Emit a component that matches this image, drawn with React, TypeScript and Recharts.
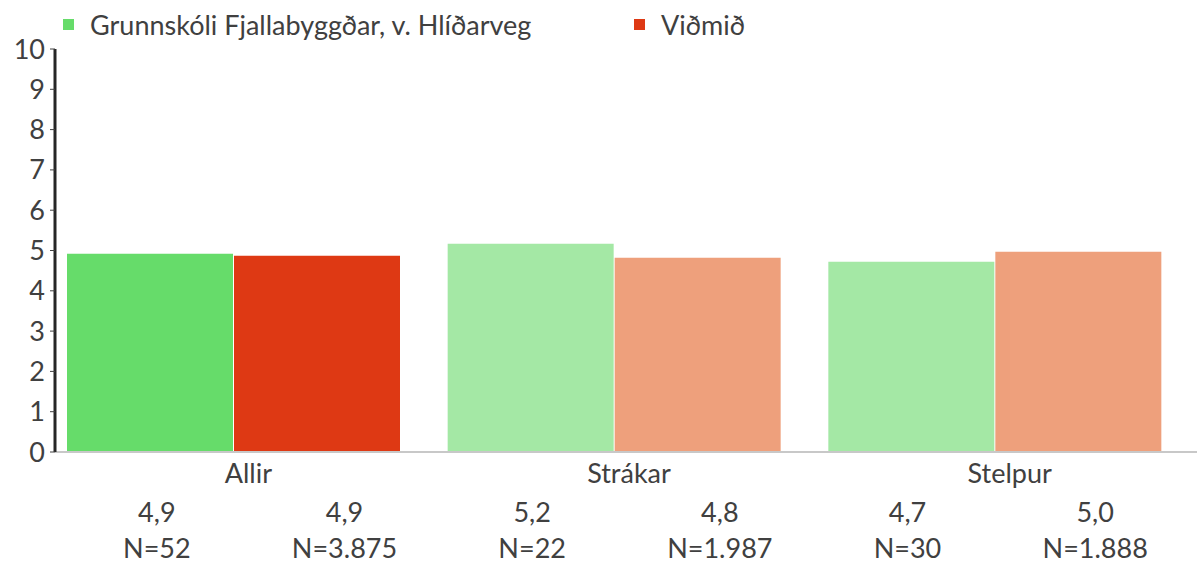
import React from 'react';
import { BarChart, Bar, XAxis, YAxis, Legend, Cell } from 'recharts';

const categories = ['Allir', 'Strákar', 'Stelpur'];
const schoolValues = [4.92, 5.17, 4.72];
const benchmarkValues = [4.87, 4.82, 4.97];
const schoolCounts = [52, 22, 30];
const benchmarkCounts = [3875, 1987, 1888];
const yTicks = [0, 1, 2, 3, 4, 5, 6, 7, 8, 9, 10];

const schoolName = 'Grunnskóli Fjallabyggðar, v. Hlíðarveg';
const benchmarkName = 'Viðmið';

const schoolColors = ['#66DC6A', '#A4E8A5', '#A4E8A5'];
const benchmarkColors = ['#DE3914', '#EEA07C', '#EEA07C'];

const FONT = 'Lato, sans-serif';
const FONT_SIZE = 27;
const TEXT = '#404040';

const data = categories.map((name, i) => ({
  name,
  school: schoolValues[i],
  benchmark: benchmarkValues[i],
}));

const fmtValue = (v: number) => v.toFixed(1).replace('.', ',');
const fmtCount = (n: number) => 'N=' + n.toString().replace(/\B(?=(\d{3})+(?!\d))/g, '.');

// one column per bar: value on top, respondent count below
const tableValues: string[] = [];
const tableCounts: string[] = [];
categories.forEach((_, i) => {
  tableValues.push(fmtValue(schoolValues[i]), fmtValue(benchmarkValues[i]));
  tableCounts.push(fmtCount(schoolCounts[i]), fmtCount(benchmarkCounts[i]));
});
const tableTicks = tableValues.map((_, i) => i + 0.5);

const LegendContent = () => (
  <div style={{ display: 'flex', height: 40, paddingLeft: 63, fontFamily: FONT, fontSize: FONT_SIZE, color: TEXT }}>
    <div style={{ display: 'flex', alignItems: 'center', width: 571, height: 30 }}>
      <span style={{ width: 11, height: 11, background: schoolColors[0], marginRight: 16 }} />
      {schoolName}
    </div>
    <div style={{ display: 'flex', alignItems: 'center', height: 30 }}>
      <span style={{ width: 11, height: 11, background: benchmarkColors[0], marginRight: 16 }} />
      {benchmarkName}
    </div>
  </div>
);

const CategoryTick = ({ x, y, payload }: any) => (
  <text x={x + 15} y={y + 23} textAnchor="middle" fill={TEXT} fontSize={FONT_SIZE} fontFamily={FONT}>
    {payload.value}
  </text>
);

const TableTick = ({ x, y, index }: any) => (
  <g fontSize={FONT_SIZE} fontFamily={FONT} fill={TEXT}>
    <text x={x} y={y + 22} textAnchor="middle">{tableValues[index]}</text>
    <text x={x} y={y + 58} textAnchor="middle">{tableCounts[index]}</text>
  </g>
);

export default function App() {
  return (
    <div style={{ position: 'absolute', left: 0, top: 0, background: '#fff' }}>
      <BarChart
        width={1197}
        height={565}
        data={data}
        margin={{ top: 9, right: 0, bottom: 0, left: 0 }}
        barGap={1}
        barSize={166}
      >
        <Legend verticalAlign="top" align="left" content={<LegendContent />} />
        <XAxis
          dataKey="name"
          padding={{ left: -12, right: 12 }}
          height={40}
          axisLine={{ stroke: '#C8C8C8', strokeWidth: 2 }}
          tickLine={false}
          tick={<CategoryTick />}
        />
        <XAxis
          xAxisId="table"
          type="number"
          dataKey={() => 0}
          domain={[0, tableValues.length]}
          allowDataOverflow
          ticks={tableTicks}
          padding={{ left: 8, right: 8 }}
          height={73}
          axisLine={false}
          tickLine={false}
          tick={<TableTick />}
          interval={0}
        />
        <YAxis
          domain={[0, 10]}
          ticks={yTicks}
          interval={0}
          width={55}
          tickSize={5}
          tickMargin={5}
          axisLine={{ stroke: '#262626', strokeWidth: 3 }}
          tickLine={{ stroke: TEXT }}
          tick={{ fill: TEXT, fontSize: FONT_SIZE, fontFamily: FONT }}
        />
        <Bar dataKey="school" name={schoolName} isAnimationActive={false}>
          {data.map((_, i) => (
            <Cell key={i} fill={schoolColors[i]} />
          ))}
        </Bar>
        <Bar dataKey="benchmark" name={benchmarkName} isAnimationActive={false}>
          {data.map((_, i) => (
            <Cell key={i} fill={benchmarkColors[i]} />
          ))}
        </Bar>
      </BarChart>
    </div>
  );
}
